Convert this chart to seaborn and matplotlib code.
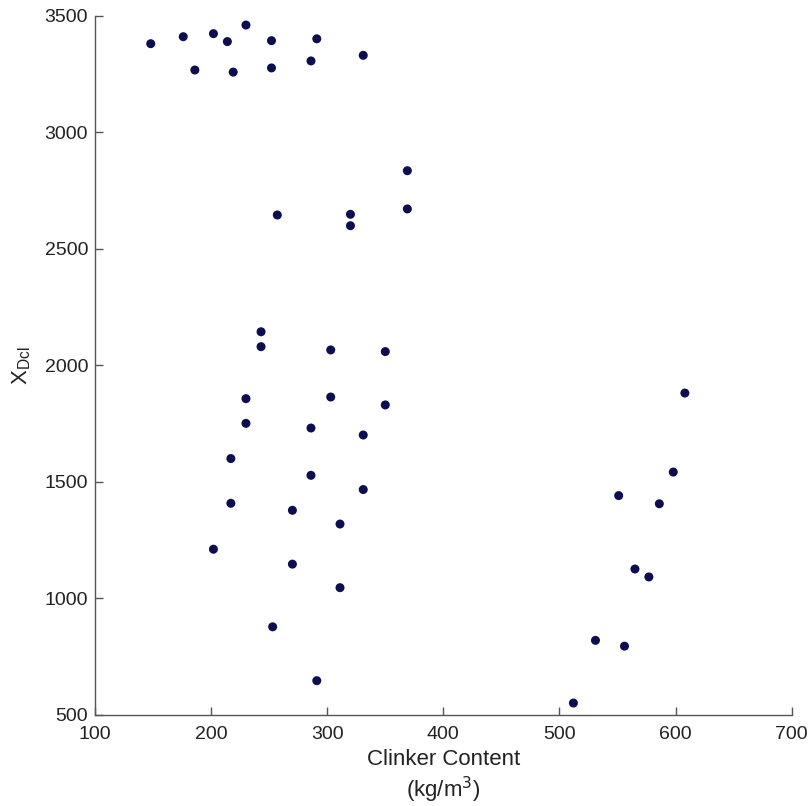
import matplotlib
matplotlib.use("Agg")
import matplotlib.pyplot as plt
import pandas as pd
import seaborn as sns

# clinker content (kg/m3) and X_Dcl
clinker = [
    148, 176, 202, 214, 230, 252, 291,
    186, 219, 252, 286, 331,
    369, 369, 257, 320, 320,
    243, 243, 303, 350, 230, 303, 350, 230, 286, 331,
    217, 286, 331, 217, 270, 311, 202, 270, 311, 253, 291,
    608, 598, 551, 586, 565, 577, 531, 556, 512,
]
x_dcl = [
    3380, 3410, 3423, 3389, 3460, 3393, 3401,
    3267, 3258, 3276, 3306, 3330,
    2835, 2671, 2645, 2648, 2599,
    2144, 2080, 2066, 2059, 1857, 1864, 1830, 1751, 1731, 1701,
    1600, 1528, 1467, 1408, 1378, 1319, 1211, 1147, 1046, 878, 647,
    1881, 1542, 1441, 1406, 1126, 1092, 820, 795, 551,
]

df = pd.DataFrame({"clinker": clinker, "xdcl": x_dcl})

sns.set_style("ticks")
plt.rcParams["font.family"] = ["Liberation Sans", "DejaVu Sans"]

fig = plt.figure(figsize=(8.12, 8.06), dpi=100)
ax = fig.add_axes([0.117, 0.113, 0.858, 0.8675])

sns.scatterplot(data=df, x="clinker", y="xdcl", ax=ax,
                color="#0d0d4f", s=42, edgecolor="none")

ax.set_xlim(100, 700)
ax.set_ylim(500, 3500)
ax.set_xticks(range(100, 701, 100))
ax.set_yticks(range(500, 3501, 500))
ax.tick_params(direction="in", length=6, width=1, colors="#555555",
               labelcolor="#222222", labelsize=14)
ax.tick_params(axis="x", pad=8)
ax.tick_params(axis="y", pad=5)
for side in ["left", "bottom"]:
    ax.spines[side].set_color("#555555")
    ax.spines[side].set_linewidth(1)
sns.despine(ax=ax)

ax.set_xlabel("Clinker Content\n(kg/m$^3$)", fontsize=16, color="#222222",
              linespacing=1.25, labelpad=4)
ax.set_ylabel("X$_{\\mathregular{Dcl}}$", fontsize=16, color="#222222",
              labelpad=8)

fig.savefig("out.png", dpi=100)
plt.close(fig)
